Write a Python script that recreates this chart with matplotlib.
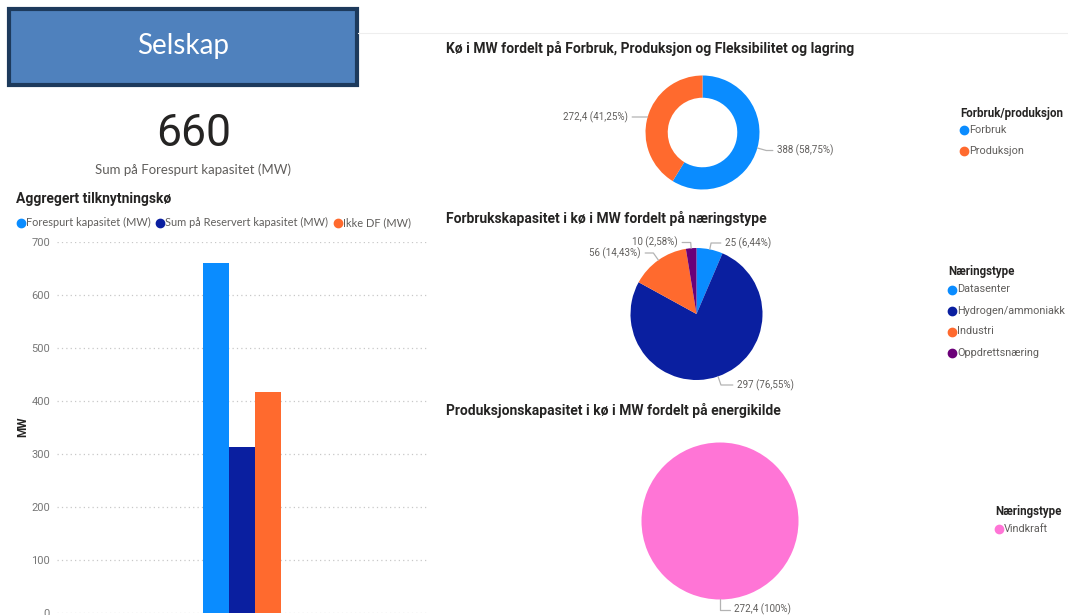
#!/usr/bin/env python3
"""Selskap dashboard: aggregated connection queue (bar) plus three pie/donut breakdowns."""

import matplotlib

matplotlib.use("Agg")
import matplotlib.pyplot as plt
import numpy as np
from matplotlib.lines import Line2D
from matplotlib.patches import Rectangle

W, H = 1068, 615

# --- data -------------------------------------------------------------------
KPI_VALUE = 660
KPI_LABEL = "Sum på Forespurt kapasitet (MW)"

bar_series = ["Forespurt kapasitet (MW)", "Sum på Reservert kapasitet (MW)", "Ikke DF (MW)"]
bar_values = [660, 312, 417]
bar_ticks = [0, 100, 200, 300, 400, 500, 600, 700]

fp_labels = ["Forbruk", "Produksjon"]
fp_values = [388, 272.4]

cons_labels = ["Datasenter", "Hydrogen/ammoniakk", "Industri", "Oppdrettsnæring"]
cons_values = [25, 297, 56, 10]

prod_labels = ["Vindkraft"]
prod_values = [272.4]

BLUE = "#0A8CFF"
NAVY = "#0A1FA0"
ORANGE = "#FF6A2E"
PURPLE = "#6B0078"
PINK = "#FF75D6"
DARK = "#252423"
GREY = "#605E5C"

DIN = ["Roboto", "DejaVu Sans"]
SEGOE = ["Lato", "DejaVu Sans"]


def fx(x):
    return x / W


def fy(y):
    return 1 - y / H


def add_axes_px(left, top, right, bottom):
    return fig.add_axes([fx(left), fy(bottom), (right - left) / W, (bottom - top) / H])


def fmt_label(v, total):
    val = f"{v:g}".replace(".", ",")
    pct = f"{v / total * 100:.2f}".rstrip("0").rstrip(".").replace(".", ",")
    return f"{val} ({pct}%)"


def legend(x, ys, labels, colors, title=None, title_y=None, size=7.8):
    if title:
        fig.text(fx(x - 4), fy(title_y), title, family=DIN, fontsize=8.3, weight="bold",
                 color=DARK, va="center", ha="left")
    for y, lab, col in zip(ys, labels, colors):
        fig.add_artist(Line2D([fx(x)], [fy(y)], marker="o", markersize=6, color=col,
                              transform=fig.transFigure))
        fig.text(fx(x + 5), fy(y), lab, family=DIN, fontsize=size, color=GREY,
                 va="center", ha="left")


def pie_axes(cx, cy, r, pad=1.05):
    return add_axes_px(cx - r * pad, cy - r * pad, cx + r * pad, cy + r * pad)


def label(ax, theta_deg, text, tx, ty, ha):
    t = np.deg2rad(theta_deg)
    ax.annotate(text, xy=(np.cos(t), np.sin(t)), xycoords="data",
                xytext=(tx, H - ty), textcoords="figure pixels",
                ha=ha, va="center", family=DIN, fontsize=7, color=GREY,
                arrowprops=dict(arrowstyle="-", color="#b3b3b3", lw=0.9,
                                shrinkA=1, shrinkB=0,
                                connectionstyle=f"angle,angleA=0,angleB={theta_deg:.1f},rad=0"))


def mid_angles(values, start=90):
    total = sum(values)
    out = []
    acc = 0
    for v in values:
        out.append(start - (acc + v / 2) / total * 360)
        acc += v
    return out


fig = plt.figure(figsize=(W / 100, H / 100), dpi=100)
fig.patch.set_facecolor("white")

# header line and title box
fig.add_artist(Line2D([fx(358), fx(W)], [fy(33), fy(33)], color="#eeeeee", lw=0.8,
                      transform=fig.transFigure))
fig.add_artist(Rectangle((fx(9), fy(85)), fx(348), 76 / H, transform=fig.transFigure,
                         facecolor="#4F81BD", edgecolor="#1D3A5C", lw=3))
fig.text(fx(183), fy(46), "Selskap", family=SEGOE, fontsize=20, color="white",
         ha="center", va="center")

# KPI card
fig.text(fx(194), fy(134), f"{KPI_VALUE}", family=DIN, fontsize=32, color=DARK,
         ha="center", va="center")
fig.text(fx(193), fy(170), KPI_LABEL, family=SEGOE, fontsize=9.5, color=GREY,
         ha="center", va="center")

# --- clustered bar chart ------------------------------------------------------
fig.text(fx(16), fy(199), "Aggregert tilknytningskø", family=DIN, fontsize=10,
         weight="bold", color=DARK, va="center")
leg_x = [21, 160, 338]
bar_colors = [BLUE, NAVY, ORANGE]
for x, lab, col in zip(leg_x, bar_series, bar_colors):
    fig.add_artist(Line2D([fx(x)], [fy(222.5)], marker="o", markersize=6, color=col,
                          transform=fig.transFigure))
    fig.text(fx(x + 5), fy(222.5), lab, family=SEGOE, fontsize=7.9, color=GREY,
             va="center")

ax = add_axes_px(57, 241.7, 427, 612.7)
offsets = [-1, 0, 1]
for off, val, col in zip(offsets, bar_values, bar_colors):
    ax.bar(off, val, width=1.0, color=col, zorder=3)
ax.set_xlim(-7.1, 7.1)
ax.set_ylim(0, 700)
ax.set_yticks(bar_ticks)
ax.set_xticks([])
ax.grid(axis="y", color="#c8c8c8", linestyle=(0, (1, 2.5)), lw=0.9, zorder=0)
for s in ax.spines.values():
    s.set_visible(False)
ax.tick_params(axis="y", length=0, pad=5, labelcolor="#777777", labelsize=8)
for t in ax.get_yticklabels():
    t.set_family(DIN)
fig.text(fx(22.5), fy(427), "MW", family=DIN, fontsize=8.5, weight="bold", color=DARK,
         rotation=90, ha="center", va="center")

# --- donut: forbruk / produksjon -------------------------------------------------
fig.text(fx(446), fy(48), "Kø i MW fordelt på Forbruk, Produksjon og Fleksibilitet og lagring",
         family=DIN, fontsize=10, weight="bold", color=DARK, va="center")
ax1 = pie_axes(702.5, 132.5, 57)
ax1.pie(fp_values, colors=[BLUE, ORANGE], startangle=90, counterclock=False,
        wedgeprops=dict(width=0.39, edgecolor="none"))
ax1.set_xlim(-1.05, 1.05)
ax1.set_ylim(-1.05, 1.05)
ang = mid_angles(fp_values)
tot = sum(fp_values)
label(ax1, ang[0], fmt_label(fp_values[0], tot), 777, 150.5, "left")
label(ax1, ang[1], fmt_label(fp_values[1], tot), 628, 117, "right")
legend(964, [130, 151], fp_labels, [BLUE, ORANGE], "Forbruk/produksjon", 113)

# --- pie: forbruk per næringstype ----------------------------------------------
fig.text(fx(446), fy(218), "Forbrukskapasitet i kø i MW fordelt på næringstype",
         family=DIN, fontsize=10, weight="bold", color=DARK, va="center")
cons_colors = [BLUE, NAVY, ORANGE, PURPLE]
ax2 = pie_axes(696.5, 314, 66)
ax2.pie(cons_values, colors=cons_colors, startangle=90, counterclock=False,
        wedgeprops=dict(edgecolor="none"))
ax2.set_xlim(-1.05, 1.05)
ax2.set_ylim(-1.05, 1.05)
ang = mid_angles(cons_values)
tot = sum(cons_values)
label(ax2, ang[0], fmt_label(cons_values[0], tot), 725, 243, "left")
label(ax2, ang[1], fmt_label(cons_values[1], tot), 737, 385, "left")
label(ax2, ang[2], fmt_label(cons_values[2], tot), 641, 253, "right")
label(ax2, ang[3], fmt_label(cons_values[3], tot), 678, 242.5, "right")
legend(952, [289.5, 310.5, 331.5, 352.5], cons_labels, cons_colors, "Næringstype", 272)

# --- pie: produksjon per energikilde -------------------------------------------
fig.text(fx(446), fy(410), "Produksjonskapasitet i kø i MW fordelt på energikilde",
         family=DIN, fontsize=10, weight="bold", color=DARK, va="center")
ax3 = pie_axes(720, 521, 78.5)
ax3.pie(prod_values, colors=[PINK], startangle=90, counterclock=False,
        wedgeprops=dict(edgecolor="none"))
ax3.set_xlim(-1.05, 1.05)
ax3.set_ylim(-1.05, 1.05)
ax3.annotate(fmt_label(prod_values[0], sum(prod_values)), xy=(0, -1), xycoords="data",
             xytext=(734, H - 609.5), textcoords="figure pixels", ha="left", va="center",
             family=DIN, fontsize=7, color=GREY, annotation_clip=False,
             arrowprops=dict(arrowstyle="-", color="#b3b3b3", lw=0.9, shrinkA=1, shrinkB=0,
                             connectionstyle="angle,angleA=0,angleB=-90,rad=0"))
legend(999, [529], prod_labels, [PINK], "Næringstype", 512)

fig.savefig("out.png", dpi=100)
